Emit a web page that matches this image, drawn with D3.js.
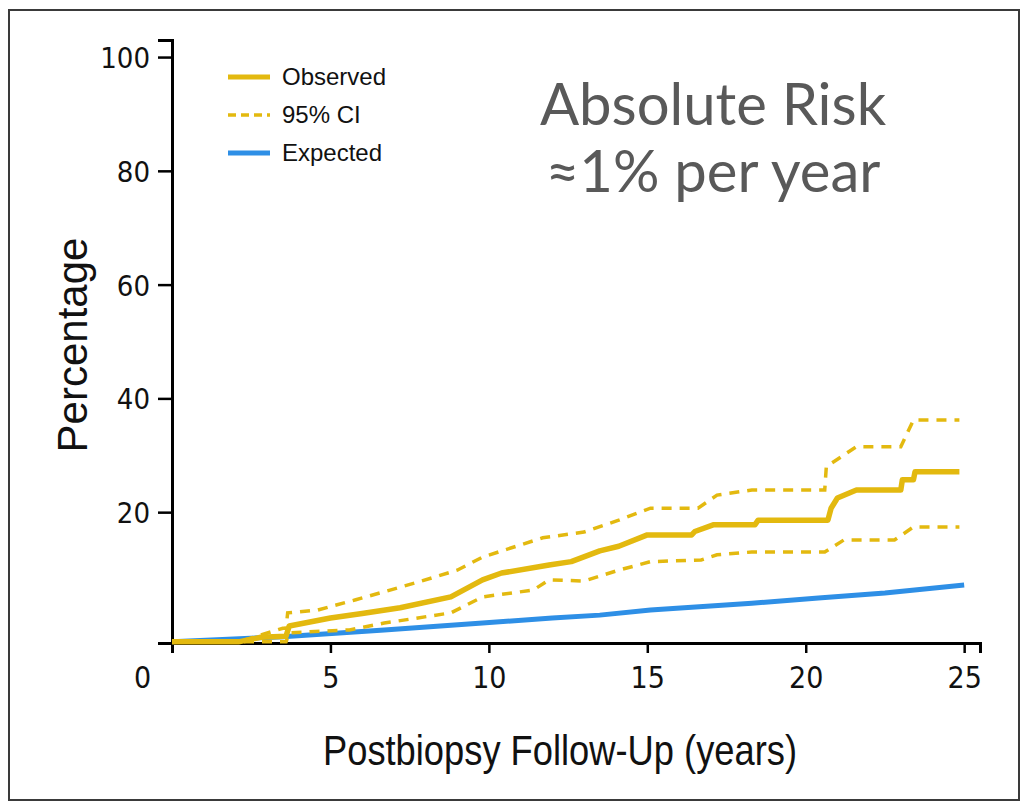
<html>
<meta http-equiv="content-type" content="text/html; charset=UTF8">
<style>
  body {margin:0; background:#fff;}
  .narrow {font-family:"Liberation Sans Narrow","Arial Narrow","DejaVu Sans Condensed",sans-serif;}
  .reg {font-family:"Liberation Sans",Arial,sans-serif;}
</style>
<body>
<svg id="svg1" width="1028" height="803"></svg>

<script src="https://cdn.jsdelivr.net/npm/d3@7"></script>
<script>
// values (years, percent)
var obsT=[0,2.1,2.8,3.6,3.7,5,6,7.2,8.8,9.8,10.4,11.9,12.6,13.5,14.1,15,16.4,16.5,17.1,18.4,18.5,20.7,20.8,21.0,21.6,23,23.05,23.4,23.45,24.85];
var obsV=[-2.8,-2.8,-2,-1.8,0,1.4,2.2,3.2,5.1,8.1,9.3,10.7,11.3,13.2,14,16,16,16.6,17.8,17.8,18.6,18.6,20.7,22.5,23.9,23.9,25.7,25.7,27.1,27.1];

var upT=[0,2.1,2.8,3.5,3.6,3.65,4.6,5.8,7.7,9,9.8,11.7,13,14.1,15.1,16.6,17.2,18.3,20.6,20.65,21.6,23,23.4,24.85];
var upV=[-2.8,-2.8,-1.6,-0.4,-0.4,2.3,2.8,4.6,7.6,9.8,12.1,15.5,16.5,18.6,20.7,20.7,23,23.9,23.9,28,31.5,31.5,36.2,36.2];

var loT=[0,3.6,3.7,5.6,6.7,8.8,9.8,11.4,11.9,13,14.1,15.1,16.7,17.2,18.3,20.6,21.2,22.8,23.4,24.85];
var loV=[-2.8,-2.8,-1.2,-0.7,0.5,2.3,5.1,6.3,8.1,7.9,9.8,11.3,11.6,12.5,13,13,15.1,15.1,17.4,17.4];

var expT=[0,3.5,6.7,9.8,12,13.5,15.1,18.3,20.4,22.5,25];
var expV=[-2.8,-1.9,-0.7,0.5,1.4,1.9,2.8,4,4.9,5.8,7.2];

var xTicks=[0,5,10,15,20,25];
var yTicks=[20,40,60,80,100];
var legendNames=["Observed","95% CI","Expected"];
var titleLines=["Absolute Risk","\u22481% per year"];

var gold="#E3B90F", blue="#2E8FE6";

var svg=d3.select("#svg1");

// outer frame
svg.append("rect").attr("x",9).attr("y",10).attr("width",1010).attr("height",790)
  .style("fill","#fff").style("stroke","#3a3a3a").style("stroke-width",2);

var x=d3.scaleLinear().domain([0,25.5]).range([172,980]);
var y=d3.scaleLinear().domain([-3,103]).range([643,40]);

var zip=function(t,v){ return t.map(function(d,i){return [d,v[i]];}); };
var line=d3.line().x(function(d){return x(d[0]);}).y(function(d){return y(d[1]);});

// axes
var gx=svg.append("g").attr("transform","translate(0,"+y(-3)+")")
  .call(d3.axisBottom(x).tickValues(xTicks).tickSizeOuter(0).tickSize(10).tickPadding(14));
gx.selectAll("text").attr("class","narrow").style("font-size","30px").style("fill","#111");
gx.selectAll(".tick").filter(function(d){return d==0;}).select("line").remove();
gx.selectAll(".tick").filter(function(d){return d==0;}).select("text").attr("x",-30);

var gy=svg.append("g").attr("transform","translate("+x(0)+",0)")
  .call(d3.axisLeft(y).tickValues(yTicks).tickSizeOuter(0).tickSize(14).tickPadding(8));
gy.selectAll("text").attr("class","narrow").style("font-size","29px").style("fill","#111").attr("dy","0.36em");

svg.selectAll(".domain,.tick line").style("stroke","#000").style("stroke-width",3);
svg.selectAll(".tick line").style("stroke-width",2.5);

// series
svg.append("path").datum(zip(expT,expV)).attr("d",line)
  .style("fill","none").style("stroke",blue).style("stroke-width",5);
[zip(upT,upV),zip(loT,loV)].forEach(function(s){
  svg.append("path").datum(s).attr("d",line)
    .style("fill","none").style("stroke",gold).style("stroke-width",3.5).style("stroke-dasharray","10,8");
});
svg.append("path").datum(zip(obsT,obsV)).attr("d",line)
  .style("fill","none").style("stroke",gold).style("stroke-width",5.5).style("stroke-linejoin","round");

// legend
var leg=svg.append("g").attr("transform","translate(228,77)");
legendNames.forEach(function(n,i){
  var r=leg.append("g").attr("transform","translate(0,"+(i*38)+")");
  r.append("line").attr("x1",0).attr("x2",42)
    .style("stroke",i==2?blue:gold).style("stroke-width",i==1?3.5:5)
    .style("stroke-dasharray",i==1?"8,5":null);
  r.append("text").attr("class","reg").attr("x",54).attr("dy","0.35em")
    .style("font-size","24px").style("fill","#111").text(n);
});

// axis titles
svg.append("text").attr("class","reg").attr("transform","translate(87,345) rotate(-90)")
  .attr("text-anchor","middle").style("font-size","42px").style("fill","#111").text("Percentage");
svg.append("text").attr("class","reg").attr("x",560).attr("y",765)
  .attr("text-anchor","middle").attr("textLength",474).attr("lengthAdjust","spacingAndGlyphs")
  .style("font-size","42px").style("fill","#111").text("Postbiopsy Follow-Up (years)");

// annotation
svg.selectAll(".title").data(titleLines).enter().append("text").attr("class","title")
  .attr("x",713).attr("y",function(d,i){return 125+i*67;})
  .attr("text-anchor","middle").style("font-family","Lato, 'Open Sans', sans-serif")
  .style("font-size","58px").style("fill","#595959").text(function(d){return d;});
</script>
</html>
